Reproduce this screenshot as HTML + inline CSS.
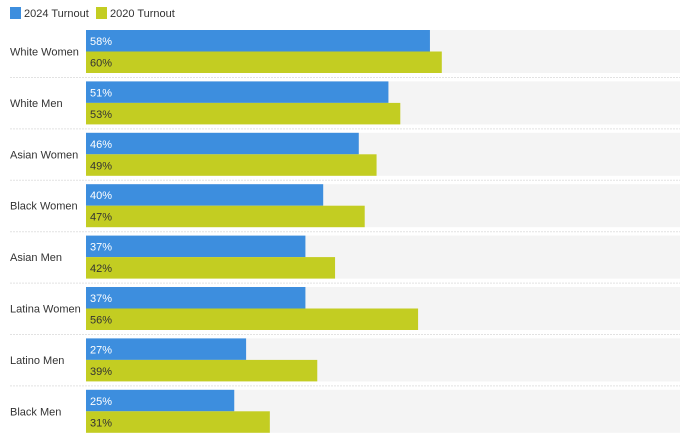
<!DOCTYPE html>
<html><head><meta charset="utf-8"><style>
body{margin:0;background:#fff;font-family:"Liberation Sans",sans-serif;}
svg text{font-family:"Liberation Sans",sans-serif;}
</style></head><body>
<svg id="c" width="680" height="438">
<g>
<rect x="10" y="7" width="11" height="12" fill="#3d8ede"/>
<text x="24" y="17" font-size="11" fill="#333">2024 Turnout</text>
<rect x="96" y="7" width="11" height="12" fill="#c3cd22"/>
<text x="110" y="17" font-size="11" fill="#333">2020 Turnout</text>
</g>
</svg>
<script>
const categories=["White Women","White Men","Asian Women","Black Women","Asian Men","Latina Women","Latino Men","Black Men"];
const turnout2024=[58,51,46,40,37,37,27,25];
const turnout2020=[60,53,49,47,42,56,39,31];
const svg=document.getElementById('c');
const NS='http://www.w3.org/2000/svg';
const x0=86,scale=5.93,top0=30,pitch=51.4,barH=21.5;
const xS=v=>v*scale;
function mk(t,a,p){const e=document.createElementNS(NS,t);for(const k in a)e.setAttribute(k,a[k]);(p||svg).appendChild(e);return e;}
categories.forEach((c,i)=>{
 const y=top0+i*pitch;
 const g=mk('g',{});
 
 
 const bg=mk('rect',{x:x0,y:y,width:680-x0,height:barH*2,fill:'#f4f4f4'},g);
 
 
 const lb=mk('text',{x:10,y:y+barH+4,'font-size':11,fill:'#333'},g);lb.textContent=c;
 
 
 const b1=mk('rect',{x:x0,y:y,width:xS(turnout2024[i]),height:barH,fill:'#3d8ede'},g);
 
 
 const t1=mk('text',{x:x0+4,y:y+15,'font-size':11,fill:'#fff'},g);t1.textContent=turnout2024[i]+'%';
 
 
 const b2=mk('rect',{x:x0,y:y+barH,width:xS(turnout2020[i]),height:barH,fill:'#c3cd22'},g);
 
 
 const t2=mk('text',{x:x0+4,y:y+barH+15,'font-size':11,fill:'#333'},g);t2.textContent=turnout2020[i]+'%';
 
 
 if(i<categories.length-1){
  const ln=mk('line',{x1:10,x2:680,y1:y+barH*2+4.5,y2:y+barH*2+4.5,stroke:'#e2e2e2','stroke-dasharray':'2,1'},g);
  
  
 }
});
</script>
</body></html>
